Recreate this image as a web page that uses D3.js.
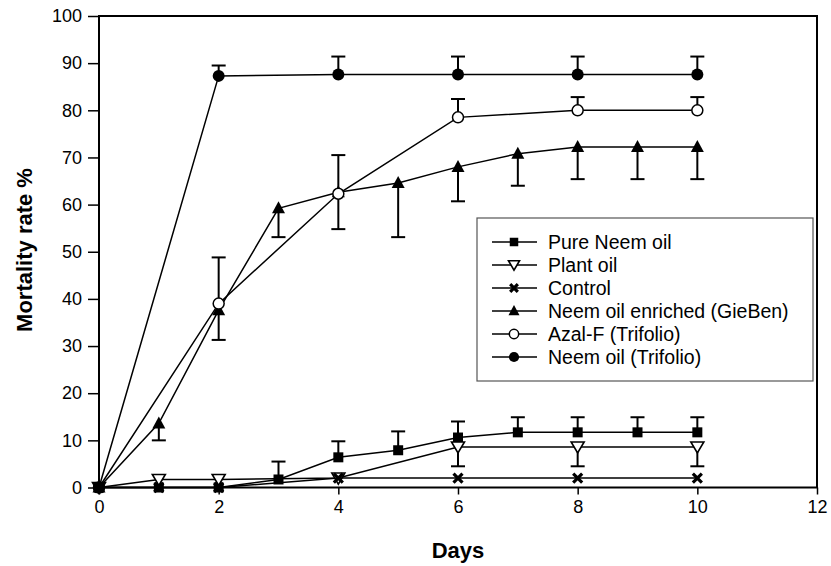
<!DOCTYPE html>
<html>
<head>
<meta charset="utf-8">
<script src="https://d3js.org/d3.v7.min.js"></script>
<style>
  body { margin: 0; background: #fff; }
  svg { display: block; font-family: Arial, "Liberation Sans", sans-serif; }
</style>
</head>
<body>
<svg id="chart" width="831" height="566"></svg>
<script>
// data
var xTicks = [0, 2, 4, 6, 8, 10, 12];
var yTicks = [0, 10, 20, 30, 40, 50, 60, 70, 80, 90, 100];

var pureNeemDays = [0, 1, 2, 3, 4, 5, 6, 7, 8, 9, 10];
var pureNeem     = [0, 0, 0, 1.7, 6.4, 7.9, 10.6, 11.7, 11.7, 11.7, 11.7];
var pureNeemErr  = [0, 0, 0, 3.8, 3.4, 4.0, 3.4, 3.2, 3.2, 3.2, 3.2];

var plantOilDays = [0, 1, 2, 4, 6, 8, 10];
var plantOil     = [0, 1.7, 1.7, 2, 8.6, 8.6, 8.6];
var plantOilErr  = [0, 0, 0, 0, 4.1, 4.1, 4.1];

var controlDays = [0, 1, 2, 4, 6, 8, 10];
var control     = [0, 0, 0, 2, 2, 2, 2];

var enrichedDays = [0, 1, 2, 3, 4, 5, 6, 7, 8, 9, 10];
var enriched     = [0, 13.6, 37.6, 59.2, 62.6, 64.6, 68, 70.8, 72.2, 72.2, 72.2];
var enrichedErr  = [0, 3.6, 6.3, 6.1, 7.8, 11.5, 7.3, 6.8, 6.8, 6.8, 6.8];

var azalDays = [0, 2, 4, 6, 8, 10];
var azal     = [0, 39, 62.3, 78.5, 80, 80];
var azalErr  = [0, 9.8, 8.2, 3.9, 2.8, 2.8];

var trifolioDays = [0, 2, 4, 6, 8, 10];
var trifolio     = [0, 87.3, 87.6, 87.6, 87.6, 87.6];
var trifolioErr  = [0, 2.2, 3.8, 3.8, 3.8, 3.8];

var series = [
    { name: "Pure Neem oil", days: pureNeemDays, vals: pureNeem, err: pureNeemErr, dir: 1, sym: "square" },
    { name: "Plant oil", days: plantOilDays, vals: plantOil, err: plantOilErr, dir: -1, sym: "tridown" },
    { name: "Control", days: controlDays, vals: control, err: null, dir: 0, sym: "cross" },
    { name: "Neem oil enriched (GieBen)", days: enrichedDays, vals: enriched, err: enrichedErr, dir: -1, sym: "triup" },
    { name: "Azal-F (Trifolio)", days: azalDays, vals: azal, err: azalErr, dir: 1, sym: "opencircle" },
    { name: "Neem oil (Trifolio)", days: trifolioDays, vals: trifolio, err: trifolioErr, dir: 1, sym: "circle" }
];

var svg = d3.select("#chart");
var x = d3.scaleLinear().domain([0, 12]).range([99, 817]);
var y = d3.scaleLinear().domain([0, 100]).range([487.5, 16]);

// frame
svg.append("rect")
    .attr("x", x(0)).attr("y", y(100))
    .attr("width", x(12) - x(0)).attr("height", y(0) - y(100))
    .attr("fill", "none").attr("stroke", "#000").attr("stroke-width", 2);

var xAxis = svg.append("g")
    .attr("transform", "translate(0," + y(0) + ")")
    .call(d3.axisBottom(x).tickValues(xTicks).tickSize(7).tickPadding(6));
var yAxis = svg.append("g")
    .attr("transform", "translate(" + x(0) + ",0)")
    .call(d3.axisLeft(y).tickValues(yTicks).tickSize(11).tickPadding(6));
[xAxis, yAxis].forEach(function (a) {
    a.select(".domain").remove();
    a.selectAll("line").attr("stroke", "#000").attr("stroke-width", 1.5);
    a.selectAll("text").attr("font-size", "18px").attr("fill", "#000")
        .attr("font-family", "Arial, 'Liberation Sans', sans-serif");
});

svg.append("text")
    .attr("x", (x(0) + x(12)) / 2).attr("y", 558)
    .attr("text-anchor", "middle")
    .attr("font-size", "22px").attr("font-weight", "bold")
    .text("Days");
svg.append("text")
    .attr("transform", "translate(32,250) rotate(-90)")
    .attr("text-anchor", "middle")
    .attr("font-size", "22px").attr("font-weight", "bold")
    .text("Mortality rate %");

function drawSymbol(g, sym, cx, cy, k) {
    k = k || 1;
    if (sym == "square") {
        g.append("rect").attr("x", cx - 5 * k).attr("y", cy - 5 * k).attr("width", 10 * k).attr("height", 10 * k)
            .attr("fill", "#000");
    } else if (sym == "tridown") {
        g.append("path").attr("d", "M" + (cx - 6.5 * k) + "," + (cy - 5 * k) + "L" + (cx + 6.5 * k) + "," + (cy - 5 * k) + "L" + cx + "," + (cy + 6 * k) + "Z")
            .attr("fill", "#fff").attr("stroke", "#000").attr("stroke-width", 1.6);
    } else if (sym == "triup") {
        g.append("path").attr("d", "M" + (cx - 6.5 * k) + "," + (cy + 5 * k) + "L" + (cx + 6.5 * k) + "," + (cy + 5 * k) + "L" + cx + "," + (cy - 7 * k) + "Z")
            .attr("fill", "#000");
    } else if (sym == "cross") {
        g.append("path").attr("d", "M" + (cx - 4.5 * k) + "," + (cy - 4.5 * k) + "L" + (cx + 4.5 * k) + "," + (cy + 4.5 * k) +
            "M" + (cx + 4.5 * k) + "," + (cy - 4.5 * k) + "L" + (cx - 4.5 * k) + "," + (cy + 4.5 * k))
            .attr("stroke", "#000").attr("stroke-width", 3.2);
    } else if (sym == "opencircle") {
        g.append("circle").attr("cx", cx).attr("cy", cy).attr("r", 5.5 * k)
            .attr("fill", "#fff").attr("stroke", "#000").attr("stroke-width", 1.5);
    } else {
        g.append("circle").attr("cx", cx).attr("cy", cy).attr("r", 6 * k)
            .attr("fill", "#000");
    }
}

var line = d3.line().x(function (d) { return x(d[0]); }).y(function (d) { return y(d[1]); });

series.forEach(function (s) {
    var pts = s.days.map(function (d, i) { return [d, s.vals[i]]; });
    var g = svg.append("g");
    g.append("path").attr("d", line(pts))
        .attr("fill", "none").attr("stroke", "#000").attr("stroke-width", 1.5);
    if (s.err) {
        pts.forEach(function (p, i) {
            if (!s.err[i]) return;
            var y1 = y(p[1] + s.dir * s.err[i]);
            g.append("line").attr("x1", x(p[0])).attr("x2", x(p[0]))
                .attr("y1", y(p[1])).attr("y2", y1)
                .attr("stroke", "#000").attr("stroke-width", 2);
            g.append("line").attr("x1", x(p[0]) - 7).attr("x2", x(p[0]) + 7)
                .attr("y1", y1).attr("y2", y1)
                .attr("stroke", "#000").attr("stroke-width", 2);
        });
    }
    pts.forEach(function (p) { drawSymbol(g, s.sym, x(p[0]), y(p[1])); });
});

// legend
var legend = svg.append("g");
legend.append("rect")
    .attr("x", 477).attr("y", 218).attr("width", 336).attr("height", 163)
    .attr("fill", "#fff").attr("stroke", "#555").attr("stroke-width", 1.2);
series.forEach(function (s, i) {
    var ly = 242 + i * 23;
    legend.append("line").attr("x1", 492).attr("x2", 537).attr("y1", ly).attr("y2", ly)
        .attr("stroke", "#000").attr("stroke-width", 1.5);
    drawSymbol(legend, s.sym, 514, ly, 0.85);
    legend.append("text").attr("x", 548).attr("y", ly + 7)
        .attr("font-size", "19.5px").text(s.name);
});
</script>
</body>
</html>
